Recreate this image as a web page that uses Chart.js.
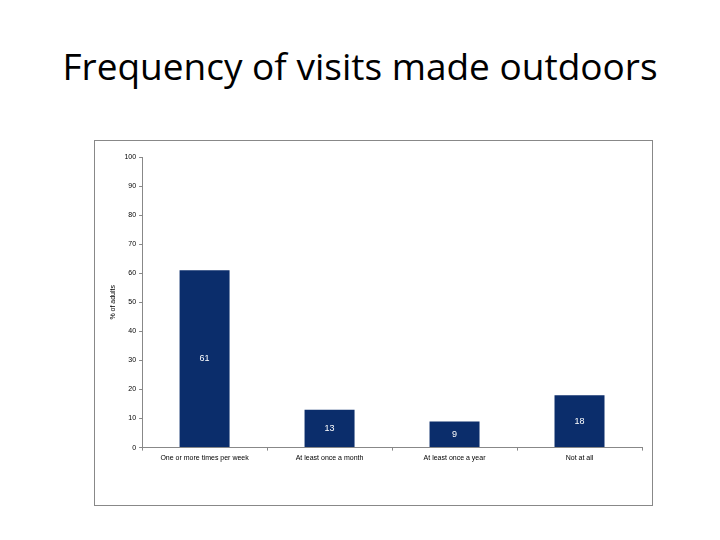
<!DOCTYPE html>
<html><head><meta charset="utf-8">
<script src="https://cdn.jsdelivr.net/npm/chart.js@4/dist/chart.umd.min.js"></script>
<style>
body{margin:0;width:720px;height:540px;background:#fff;position:relative;font-family:"Open Sans",sans-serif;}
#t{position:absolute;top:40px;left:0;width:720px;text-align:center;font-size:37px;color:#000;}
#box{position:absolute;left:94px;top:140px;width:557px;height:364px;border:1px solid #888;}
</style></head><body>
<div id="t">Frequency of visits made outdoors</div>
<div id="box"><canvas id="c" width="557" height="364"></canvas></div>
<script>
const categories=["One or more times per week","At least once a month","At least once a year","Not at all"];
const values=[61,13,9,18];
const labelPlugin={id:'lbl',afterDatasetsDraw(ch){const ctx=ch.ctx;const meta=ch.getDatasetMeta(0);ctx.save();ctx.fillStyle='#fff';ctx.font='9px "Liberation Sans",Arial';ctx.textAlign='center';ctx.textBaseline='middle';
meta.data.forEach((b,i)=>{ctx.fillText(String(values[i]),b.x,(b.y+b.base)/2);});ctx.restore();}};
new Chart(document.getElementById('c'),{type:'bar',data:{labels:categories,datasets:[{data:values,backgroundColor:'#0b2d6b',barPercentage:0.4,categoryPercentage:1}]},
options:{responsive:false,animation:false,layout:{padding:{top:16,right:10,bottom:40,left:10}},
plugins:{legend:{display:false},tooltip:{enabled:false}},
scales:{y:{min:0,max:100,ticks:{stepSize:10,font:{size:7,family:'"Liberation Sans",Arial'},color:'#000',padding:3},
grid:{drawOnChartArea:false,tickLength:3,color:'#888'},border:{color:'#888'},
title:{display:true,text:'% of adults',font:{size:7,family:'"Liberation Sans",Arial'},color:'#000'}},
x:{ticks:{font:{size:7,family:'"Liberation Sans",Arial'},color:'#000',maxRotation:0},grid:{offset:true,drawOnChartArea:false,tickLength:3,color:'#888'},border:{color:'#888'}}}},
plugins:[labelPlugin]});
</script></body></html>
